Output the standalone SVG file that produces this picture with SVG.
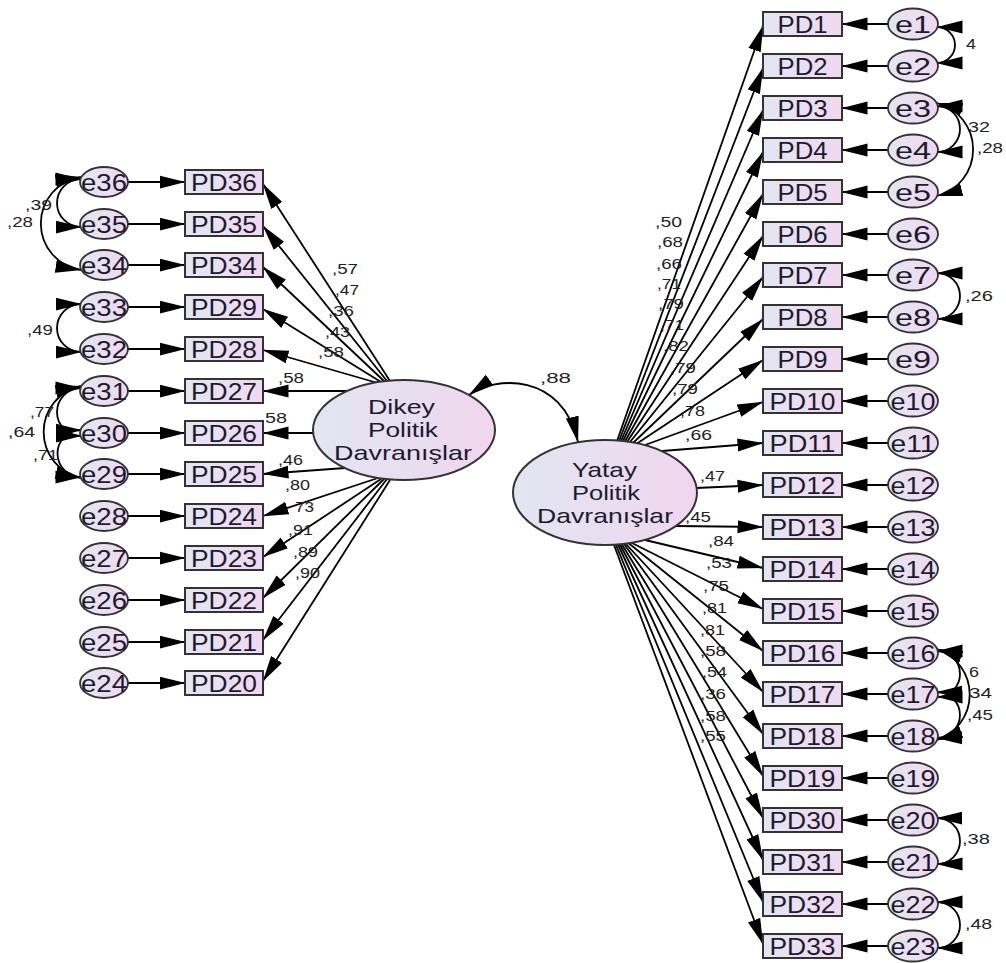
<svg xmlns="http://www.w3.org/2000/svg" width="1006" height="963" viewBox="0 0 1006 963">
<style>
.bg{fill:#fff}
.box{fill:url(#gf);stroke:#333;stroke-width:2}
.ell{fill:url(#gf);stroke:#333;stroke-width:1.8}
.lat{fill:url(#gl);stroke:#333;stroke-width:2}
.t{font-family:"Liberation Sans",Arial,sans-serif;font-size:24px;fill:#1c1c30}
.lt{font-family:"Liberation Sans",Arial,sans-serif;font-size:21px;fill:#1c1c30}
.n{font-family:"Liberation Sans",Arial,sans-serif;font-size:15px;fill:#222}
.c{fill:none;stroke:#000;stroke-width:1.8}
.ar{marker-end:url(#a)}
.cv{marker-start:url(#a);marker-end:url(#a)}
</style>
<defs>
<linearGradient id="gf" x1="0" y1="0" x2="1" y2="0">
<stop offset="0" stop-color="#e3e6f2"/><stop offset="1" stop-color="#f1d8ee"/>
</linearGradient>
<linearGradient id="gl" x1="0" y1="0" x2="1" y2="0">
<stop offset="0" stop-color="#e2e6f2"/><stop offset="1" stop-color="#f0d6ee"/>
</linearGradient>
<marker id="a" viewBox="0 0 26 14" refX="25.5" refY="7" markerWidth="26" markerHeight="14" markerUnits="userSpaceOnUse" orient="auto-start-reverse">
<path d="M0,0.5 L26,7 L0,13.5 Z" fill="#000"/>
</marker>
</defs>
<rect class="bg" x="0" y="0" width="1006" height="963"/>

<g id="connectors">
<path class="c ar" d="M128,182H185"/>
<path class="c ar" d="M128,224H185"/>
<path class="c ar" d="M128,265H185"/>
<path class="c ar" d="M128,307H185"/>
<path class="c ar" d="M128,349H185"/>
<path class="c ar" d="M128,391H185"/>
<path class="c ar" d="M128,433H185"/>
<path class="c ar" d="M128,474H185"/>
<path class="c ar" d="M128,516H185"/>
<path class="c ar" d="M128,558H185"/>
<path class="c ar" d="M128,600H185"/>
<path class="c ar" d="M128,642H185"/>
<path class="c ar" d="M128,683H185"/>
<path class="c ar" d="M390,381L263,184"/>
<path class="c ar" d="M387,381L263,226"/>
<path class="c ar" d="M384,381L263,267"/>
<path class="c ar" d="M381,382L263,309"/>
<path class="c ar" d="M376,382.5L263,350"/>
<path class="c ar" d="M347,391L263,391"/>
<path class="c ar" d="M313,433L263,433"/>
<path class="c ar" d="M345,468L263,474"/>
<path class="c ar" d="M378,478L263,516"/>
<path class="c ar" d="M381,479L263,557"/>
<path class="c ar" d="M384,479L263,598"/>
<path class="c ar" d="M387,479L263,640"/>
<path class="c ar" d="M390,480L263,681"/>
<path class="c cv" d="M81,179A24,24 0 0 0 81,227"/>
<path class="c cv" d="M81,177A47,47 0 0 0 81,270"/>
<path class="c cv" d="M81,304A24,24 0 0 0 81,352"/>
<path class="c cv" d="M81,388A24,24 0 0 0 81,436"/>
<path class="c cv" d="M81,430A23.5,23.5 0 0 0 81,477"/>
<path class="c cv" d="M81,386A47,47 0 0 0 81,478"/>
<path class="c cv" d="M469,395C495,376 562,372 578,442"/>
<path class="c ar" d="M617,441L763,26"/>
<path class="c ar" d="M619,441L763,68"/>
<path class="c ar" d="M621,441L763,110"/>
<path class="c ar" d="M623,441L763,152"/>
<path class="c ar" d="M625,441.5L763,194"/>
<path class="c ar" d="M627,442L763,236"/>
<path class="c ar" d="M630,442L763,277"/>
<path class="c ar" d="M633,443L763,319"/>
<path class="c ar" d="M637,443.5L763,360"/>
<path class="c ar" d="M645,445L763,402"/>
<path class="c ar" d="M662,451L763,443"/>
<path class="c ar" d="M696,488L763,485"/>
<path class="c ar" d="M675,526L763,527"/>
<path class="c ar" d="M645,540L763,568"/>
<path class="c ar" d="M632,543L763,609"/>
<path class="c ar" d="M629,543.5L763,651"/>
<path class="c ar" d="M626,544L763,692"/>
<path class="c ar" d="M624,544L763,734"/>
<path class="c ar" d="M622,544.5L763,776"/>
<path class="c ar" d="M620,544.5L763,818"/>
<path class="c ar" d="M618,544.5L763,860"/>
<path class="c ar" d="M616,545L763,902"/>
<path class="c ar" d="M614,545L763,944"/>
<path class="c ar" d="M888,24H842"/>
<path class="c ar" d="M888,66H842"/>
<path class="c ar" d="M888,108H842"/>
<path class="c ar" d="M888,150H842"/>
<path class="c ar" d="M888,192H842"/>
<path class="c ar" d="M888,234H842"/>
<path class="c ar" d="M888,275H842"/>
<path class="c ar" d="M888,317H842"/>
<path class="c ar" d="M888,359H842"/>
<path class="c ar" d="M888,401H842"/>
<path class="c ar" d="M888,443H842"/>
<path class="c ar" d="M888,485H842"/>
<path class="c ar" d="M888,527H842"/>
<path class="c ar" d="M888,569H842"/>
<path class="c ar" d="M888,611H842"/>
<path class="c ar" d="M888,653H842"/>
<path class="c ar" d="M888,694H842"/>
<path class="c ar" d="M888,736H842"/>
<path class="c ar" d="M888,778H842"/>
<path class="c ar" d="M888,820H842"/>
<path class="c ar" d="M888,862H842"/>
<path class="c ar" d="M888,904H842"/>
<path class="c ar" d="M888,946H842"/>
<path class="c cv" d="M937,27A18,18 0 0 1 937,63"/>
<path class="c cv" d="M937,106A23,23 0 0 1 937,152"/>
<path class="c cv" d="M937,103A48,48 0 0 1 937,196"/>
<path class="c cv" d="M937,273A23,23 0 0 1 937,319"/>
<path class="c cv" d="M937,651A23,23 0 0 1 937,697"/>
<path class="c cv" d="M937,692A23,23 0 0 1 937,738"/>
<path class="c cv" d="M937,649A48,48 0 0 1 937,740"/>
<path class="c cv" d="M937,818A23,23 0 0 1 937,864"/>
<path class="c cv" d="M937,902A23,23 0 0 1 937,948"/>
</g>

<g id="connector-labels" class="n">
<text x="332" y="274" textLength="26" lengthAdjust="spacingAndGlyphs">,57</text>
<text x="335" y="295" textLength="24" lengthAdjust="spacingAndGlyphs">,47</text>
<text x="328" y="316" textLength="26" lengthAdjust="spacingAndGlyphs">,36</text>
<text x="325" y="337" textLength="25" lengthAdjust="spacingAndGlyphs">,43</text>
<text x="318" y="357" textLength="26" lengthAdjust="spacingAndGlyphs">,58</text>
<text x="278" y="383" textLength="26" lengthAdjust="spacingAndGlyphs">,58</text>
<text x="265" y="423" textLength="22" lengthAdjust="spacingAndGlyphs">58</text>
<text x="278" y="465" textLength="25" lengthAdjust="spacingAndGlyphs">,46</text>
<text x="285" y="490" textLength="25" lengthAdjust="spacingAndGlyphs">,80</text>
<text x="295" y="512" textLength="19" lengthAdjust="spacingAndGlyphs">73</text>
<text x="288" y="535" textLength="25" lengthAdjust="spacingAndGlyphs">,91</text>
<text x="293" y="557" textLength="25" lengthAdjust="spacingAndGlyphs">,89</text>
<text x="295" y="578" textLength="25" lengthAdjust="spacingAndGlyphs">,90</text>
<text x="25" y="210" textLength="27" lengthAdjust="spacingAndGlyphs">,39</text>
<text x="7" y="227" textLength="26" lengthAdjust="spacingAndGlyphs">,28</text>
<text x="27" y="335" textLength="26" lengthAdjust="spacingAndGlyphs">,49</text>
<text x="30" y="417" textLength="24" lengthAdjust="spacingAndGlyphs">,77</text>
<text x="8" y="437" textLength="27" lengthAdjust="spacingAndGlyphs">,64</text>
<text x="33" y="460" textLength="25" lengthAdjust="spacingAndGlyphs">,71</text>
<text x="540" y="383" textLength="31" lengthAdjust="spacingAndGlyphs">,88</text>
<text x="655" y="227" textLength="27" lengthAdjust="spacingAndGlyphs">,50</text>
<text x="657" y="247" textLength="26" lengthAdjust="spacingAndGlyphs">,68</text>
<text x="656" y="269" textLength="26" lengthAdjust="spacingAndGlyphs">,66</text>
<text x="657" y="289" textLength="24" lengthAdjust="spacingAndGlyphs">,71</text>
<text x="658" y="309" textLength="26" lengthAdjust="spacingAndGlyphs">,79</text>
<text x="660" y="330" textLength="24" lengthAdjust="spacingAndGlyphs">,71</text>
<text x="663" y="351" textLength="26" lengthAdjust="spacingAndGlyphs">,82</text>
<text x="670" y="373" textLength="26" lengthAdjust="spacingAndGlyphs">,79</text>
<text x="672" y="394" textLength="26" lengthAdjust="spacingAndGlyphs">,79</text>
<text x="680" y="416" textLength="25" lengthAdjust="spacingAndGlyphs">,78</text>
<text x="685" y="440" textLength="27" lengthAdjust="spacingAndGlyphs">,66</text>
<text x="700" y="481" textLength="25" lengthAdjust="spacingAndGlyphs">,47</text>
<text x="685" y="522" textLength="26" lengthAdjust="spacingAndGlyphs">,45</text>
<text x="708" y="546" textLength="26" lengthAdjust="spacingAndGlyphs">,84</text>
<text x="706" y="568" textLength="26" lengthAdjust="spacingAndGlyphs">,53</text>
<text x="703" y="591" textLength="26" lengthAdjust="spacingAndGlyphs">,75</text>
<text x="702" y="613" textLength="25" lengthAdjust="spacingAndGlyphs">,81</text>
<text x="700" y="635" textLength="25" lengthAdjust="spacingAndGlyphs">,81</text>
<text x="700" y="656" textLength="26" lengthAdjust="spacingAndGlyphs">,58</text>
<text x="702" y="677" textLength="25" lengthAdjust="spacingAndGlyphs">,54</text>
<text x="700" y="699" textLength="26" lengthAdjust="spacingAndGlyphs">,36</text>
<text x="700" y="721" textLength="26" lengthAdjust="spacingAndGlyphs">,58</text>
<text x="700" y="741" textLength="26" lengthAdjust="spacingAndGlyphs">,55</text>
<text x="966" y="49" textLength="10" lengthAdjust="spacingAndGlyphs">4</text>
<text x="968" y="132" textLength="22" lengthAdjust="spacingAndGlyphs">32</text>
<text x="977" y="153" textLength="26" lengthAdjust="spacingAndGlyphs">,28</text>
<text x="965" y="301" textLength="28" lengthAdjust="spacingAndGlyphs">,26</text>
<text x="969" y="677" textLength="10" lengthAdjust="spacingAndGlyphs">6</text>
<text x="969" y="698" textLength="23" lengthAdjust="spacingAndGlyphs">34</text>
<text x="967" y="720" textLength="26" lengthAdjust="spacingAndGlyphs">,45</text>
<text x="962" y="844" textLength="28" lengthAdjust="spacingAndGlyphs">,38</text>
<text x="965" y="929" textLength="27" lengthAdjust="spacingAndGlyphs">,48</text>
</g>

<g id="latent-dikey">
<ellipse class="lat" cx="404" cy="430" rx="91" ry="50"/>
<text class="lt" x="368" y="414" textLength="67" lengthAdjust="spacingAndGlyphs">Dikey</text>
<text class="lt" x="368" y="437" textLength="70" lengthAdjust="spacingAndGlyphs">Politik</text>
<text class="lt" x="334" y="460" textLength="138" lengthAdjust="spacingAndGlyphs">Davranışlar</text>
</g>
<g id="latent-yatay">
<ellipse class="lat" cx="605" cy="492.5" rx="92" ry="52.5"/>
<text class="lt" x="572" y="477" textLength="65" lengthAdjust="spacingAndGlyphs">Yatay</text>
<text class="lt" x="572" y="500" textLength="68" lengthAdjust="spacingAndGlyphs">Politik</text>
<text class="lt" x="537" y="523" textLength="136" lengthAdjust="spacingAndGlyphs">Davranışlar</text>
</g>

<g id="PD36"><rect class="box" x="185" y="170" width="78" height="24"/><text class="t" x="191" y="190.5" textLength="66" lengthAdjust="spacingAndGlyphs">PD36</text></g>
<g id="PD35"><rect class="box" x="185" y="212" width="78" height="24"/><text class="t" x="191" y="232.5" textLength="66" lengthAdjust="spacingAndGlyphs">PD35</text></g>
<g id="PD34"><rect class="box" x="185" y="253" width="78" height="24"/><text class="t" x="191" y="273.5" textLength="66" lengthAdjust="spacingAndGlyphs">PD34</text></g>
<g id="PD29"><rect class="box" x="185" y="295" width="78" height="24"/><text class="t" x="191" y="315.5" textLength="66" lengthAdjust="spacingAndGlyphs">PD29</text></g>
<g id="PD28"><rect class="box" x="185" y="337" width="78" height="24"/><text class="t" x="191" y="357.5" textLength="66" lengthAdjust="spacingAndGlyphs">PD28</text></g>
<g id="PD27"><rect class="box" x="185" y="379" width="78" height="24"/><text class="t" x="191" y="399.5" textLength="66" lengthAdjust="spacingAndGlyphs">PD27</text></g>
<g id="PD26"><rect class="box" x="185" y="421" width="78" height="24"/><text class="t" x="191" y="441.5" textLength="66" lengthAdjust="spacingAndGlyphs">PD26</text></g>
<g id="PD25"><rect class="box" x="185" y="462" width="78" height="24"/><text class="t" x="191" y="482.5" textLength="66" lengthAdjust="spacingAndGlyphs">PD25</text></g>
<g id="PD24"><rect class="box" x="185" y="504" width="78" height="24"/><text class="t" x="191" y="524.5" textLength="66" lengthAdjust="spacingAndGlyphs">PD24</text></g>
<g id="PD23"><rect class="box" x="185" y="546" width="78" height="24"/><text class="t" x="191" y="566.5" textLength="66" lengthAdjust="spacingAndGlyphs">PD23</text></g>
<g id="PD22"><rect class="box" x="185" y="588" width="78" height="24"/><text class="t" x="191" y="608.5" textLength="66" lengthAdjust="spacingAndGlyphs">PD22</text></g>
<g id="PD21"><rect class="box" x="185" y="630" width="78" height="24"/><text class="t" x="191" y="650.5" textLength="66" lengthAdjust="spacingAndGlyphs">PD21</text></g>
<g id="PD20"><rect class="box" x="185" y="671" width="78" height="24"/><text class="t" x="191" y="691.5" textLength="66" lengthAdjust="spacingAndGlyphs">PD20</text></g>

<g id="e36"><ellipse class="ell" cx="104" cy="182" rx="24" ry="15"/><text class="t" x="81" y="190.5" textLength="46" lengthAdjust="spacingAndGlyphs">e36</text></g>
<g id="e35"><ellipse class="ell" cx="104" cy="224" rx="24" ry="15"/><text class="t" x="81" y="232.5" textLength="46" lengthAdjust="spacingAndGlyphs">e35</text></g>
<g id="e34"><ellipse class="ell" cx="104" cy="265" rx="24" ry="15"/><text class="t" x="81" y="273.5" textLength="46" lengthAdjust="spacingAndGlyphs">e34</text></g>
<g id="e33"><ellipse class="ell" cx="104" cy="307" rx="24" ry="15"/><text class="t" x="81" y="315.5" textLength="46" lengthAdjust="spacingAndGlyphs">e33</text></g>
<g id="e32"><ellipse class="ell" cx="104" cy="349" rx="24" ry="15"/><text class="t" x="81" y="357.5" textLength="46" lengthAdjust="spacingAndGlyphs">e32</text></g>
<g id="e31"><ellipse class="ell" cx="104" cy="391" rx="24" ry="15"/><text class="t" x="81" y="399.5" textLength="46" lengthAdjust="spacingAndGlyphs">e31</text></g>
<g id="e30"><ellipse class="ell" cx="104" cy="433" rx="24" ry="15"/><text class="t" x="81" y="441.5" textLength="46" lengthAdjust="spacingAndGlyphs">e30</text></g>
<g id="e29"><ellipse class="ell" cx="104" cy="474" rx="24" ry="15"/><text class="t" x="81" y="482.5" textLength="46" lengthAdjust="spacingAndGlyphs">e29</text></g>
<g id="e28"><ellipse class="ell" cx="104" cy="516" rx="24" ry="15"/><text class="t" x="81" y="524.5" textLength="46" lengthAdjust="spacingAndGlyphs">e28</text></g>
<g id="e27"><ellipse class="ell" cx="104" cy="558" rx="24" ry="15"/><text class="t" x="81" y="566.5" textLength="46" lengthAdjust="spacingAndGlyphs">e27</text></g>
<g id="e26"><ellipse class="ell" cx="104" cy="600" rx="24" ry="15"/><text class="t" x="81" y="608.5" textLength="46" lengthAdjust="spacingAndGlyphs">e26</text></g>
<g id="e25"><ellipse class="ell" cx="104" cy="642" rx="24" ry="15"/><text class="t" x="81" y="650.5" textLength="46" lengthAdjust="spacingAndGlyphs">e25</text></g>
<g id="e24"><ellipse class="ell" cx="104" cy="683" rx="24" ry="15"/><text class="t" x="81" y="691.5" textLength="46" lengthAdjust="spacingAndGlyphs">e24</text></g>

<g id="PD1"><rect class="box" x="763" y="12" width="79" height="24"/><text class="t" x="777.5" y="32.5" textLength="50" lengthAdjust="spacingAndGlyphs">PD1</text></g>
<g id="PD2"><rect class="box" x="763" y="54" width="79" height="24"/><text class="t" x="777.5" y="74.5" textLength="50" lengthAdjust="spacingAndGlyphs">PD2</text></g>
<g id="PD3"><rect class="box" x="763" y="96" width="79" height="24"/><text class="t" x="777.5" y="116.5" textLength="50" lengthAdjust="spacingAndGlyphs">PD3</text></g>
<g id="PD4"><rect class="box" x="763" y="138" width="79" height="24"/><text class="t" x="777.5" y="158.5" textLength="50" lengthAdjust="spacingAndGlyphs">PD4</text></g>
<g id="PD5"><rect class="box" x="763" y="180" width="79" height="24"/><text class="t" x="777.5" y="200.5" textLength="50" lengthAdjust="spacingAndGlyphs">PD5</text></g>
<g id="PD6"><rect class="box" x="763" y="222" width="79" height="24"/><text class="t" x="777.5" y="242.5" textLength="50" lengthAdjust="spacingAndGlyphs">PD6</text></g>
<g id="PD7"><rect class="box" x="763" y="263" width="79" height="24"/><text class="t" x="777.5" y="283.5" textLength="50" lengthAdjust="spacingAndGlyphs">PD7</text></g>
<g id="PD8"><rect class="box" x="763" y="305" width="79" height="24"/><text class="t" x="777.5" y="325.5" textLength="50" lengthAdjust="spacingAndGlyphs">PD8</text></g>
<g id="PD9"><rect class="box" x="763" y="347" width="79" height="24"/><text class="t" x="777.5" y="367.5" textLength="50" lengthAdjust="spacingAndGlyphs">PD9</text></g>
<g id="PD10"><rect class="box" x="763" y="389" width="79" height="24"/><text class="t" x="769.5" y="409.5" textLength="66" lengthAdjust="spacingAndGlyphs">PD10</text></g>
<g id="PD11"><rect class="box" x="763" y="431" width="79" height="24"/><text class="t" x="769.5" y="451.5" textLength="66" lengthAdjust="spacingAndGlyphs">PD11</text></g>
<g id="PD12"><rect class="box" x="763" y="473" width="79" height="24"/><text class="t" x="769.5" y="493.5" textLength="66" lengthAdjust="spacingAndGlyphs">PD12</text></g>
<g id="PD13"><rect class="box" x="763" y="515" width="79" height="24"/><text class="t" x="769.5" y="535.5" textLength="66" lengthAdjust="spacingAndGlyphs">PD13</text></g>
<g id="PD14"><rect class="box" x="763" y="557" width="79" height="24"/><text class="t" x="769.5" y="577.5" textLength="66" lengthAdjust="spacingAndGlyphs">PD14</text></g>
<g id="PD15"><rect class="box" x="763" y="599" width="79" height="24"/><text class="t" x="769.5" y="619.5" textLength="66" lengthAdjust="spacingAndGlyphs">PD15</text></g>
<g id="PD16"><rect class="box" x="763" y="641" width="79" height="24"/><text class="t" x="769.5" y="661.5" textLength="66" lengthAdjust="spacingAndGlyphs">PD16</text></g>
<g id="PD17"><rect class="box" x="763" y="682" width="79" height="24"/><text class="t" x="769.5" y="702.5" textLength="66" lengthAdjust="spacingAndGlyphs">PD17</text></g>
<g id="PD18"><rect class="box" x="763" y="724" width="79" height="24"/><text class="t" x="769.5" y="744.5" textLength="66" lengthAdjust="spacingAndGlyphs">PD18</text></g>
<g id="PD19"><rect class="box" x="763" y="766" width="79" height="24"/><text class="t" x="769.5" y="786.5" textLength="66" lengthAdjust="spacingAndGlyphs">PD19</text></g>
<g id="PD30"><rect class="box" x="763" y="808" width="79" height="24"/><text class="t" x="769.5" y="828.5" textLength="66" lengthAdjust="spacingAndGlyphs">PD30</text></g>
<g id="PD31"><rect class="box" x="763" y="850" width="79" height="24"/><text class="t" x="769.5" y="870.5" textLength="66" lengthAdjust="spacingAndGlyphs">PD31</text></g>
<g id="PD32"><rect class="box" x="763" y="892" width="79" height="24"/><text class="t" x="769.5" y="912.5" textLength="66" lengthAdjust="spacingAndGlyphs">PD32</text></g>
<g id="PD33"><rect class="box" x="763" y="934" width="79" height="24"/><text class="t" x="769.5" y="954.5" textLength="66" lengthAdjust="spacingAndGlyphs">PD33</text></g>

<g id="e1"><ellipse class="ell" cx="913" cy="24" rx="25" ry="15.5"/><text class="t" x="895" y="32.5" textLength="36" lengthAdjust="spacingAndGlyphs">e1</text></g>
<g id="e2"><ellipse class="ell" cx="913" cy="66" rx="25" ry="15.5"/><text class="t" x="895" y="74.5" textLength="36" lengthAdjust="spacingAndGlyphs">e2</text></g>
<g id="e3"><ellipse class="ell" cx="913" cy="108" rx="25" ry="15.5"/><text class="t" x="895" y="116.5" textLength="36" lengthAdjust="spacingAndGlyphs">e3</text></g>
<g id="e4"><ellipse class="ell" cx="913" cy="150" rx="25" ry="15.5"/><text class="t" x="895" y="158.5" textLength="36" lengthAdjust="spacingAndGlyphs">e4</text></g>
<g id="e5"><ellipse class="ell" cx="913" cy="192" rx="25" ry="15.5"/><text class="t" x="895" y="200.5" textLength="36" lengthAdjust="spacingAndGlyphs">e5</text></g>
<g id="e6"><ellipse class="ell" cx="913" cy="234" rx="25" ry="15.5"/><text class="t" x="895" y="242.5" textLength="36" lengthAdjust="spacingAndGlyphs">e6</text></g>
<g id="e7"><ellipse class="ell" cx="913" cy="275" rx="25" ry="15.5"/><text class="t" x="895" y="283.5" textLength="36" lengthAdjust="spacingAndGlyphs">e7</text></g>
<g id="e8"><ellipse class="ell" cx="913" cy="317" rx="25" ry="15.5"/><text class="t" x="895" y="325.5" textLength="36" lengthAdjust="spacingAndGlyphs">e8</text></g>
<g id="e9"><ellipse class="ell" cx="913" cy="359" rx="25" ry="15.5"/><text class="t" x="895" y="367.5" textLength="36" lengthAdjust="spacingAndGlyphs">e9</text></g>
<g id="e10"><ellipse class="ell" cx="913" cy="401" rx="25" ry="15.5"/><text class="t" x="890.5" y="409.5" textLength="45" lengthAdjust="spacingAndGlyphs">e10</text></g>
<g id="e11"><ellipse class="ell" cx="913" cy="443" rx="25" ry="15.5"/><text class="t" x="890.5" y="451.5" textLength="45" lengthAdjust="spacingAndGlyphs">e11</text></g>
<g id="e12"><ellipse class="ell" cx="913" cy="485" rx="25" ry="15.5"/><text class="t" x="890.5" y="493.5" textLength="45" lengthAdjust="spacingAndGlyphs">e12</text></g>
<g id="e13"><ellipse class="ell" cx="913" cy="527" rx="25" ry="15.5"/><text class="t" x="890.5" y="535.5" textLength="45" lengthAdjust="spacingAndGlyphs">e13</text></g>
<g id="e14"><ellipse class="ell" cx="913" cy="569" rx="25" ry="15.5"/><text class="t" x="890.5" y="577.5" textLength="45" lengthAdjust="spacingAndGlyphs">e14</text></g>
<g id="e15"><ellipse class="ell" cx="913" cy="611" rx="25" ry="15.5"/><text class="t" x="890.5" y="619.5" textLength="45" lengthAdjust="spacingAndGlyphs">e15</text></g>
<g id="e16"><ellipse class="ell" cx="913" cy="653" rx="25" ry="15.5"/><text class="t" x="890.5" y="661.5" textLength="45" lengthAdjust="spacingAndGlyphs">e16</text></g>
<g id="e17"><ellipse class="ell" cx="913" cy="694" rx="25" ry="15.5"/><text class="t" x="890.5" y="702.5" textLength="45" lengthAdjust="spacingAndGlyphs">e17</text></g>
<g id="e18"><ellipse class="ell" cx="913" cy="736" rx="25" ry="15.5"/><text class="t" x="890.5" y="744.5" textLength="45" lengthAdjust="spacingAndGlyphs">e18</text></g>
<g id="e19"><ellipse class="ell" cx="913" cy="778" rx="25" ry="15.5"/><text class="t" x="890.5" y="786.5" textLength="45" lengthAdjust="spacingAndGlyphs">e19</text></g>
<g id="e20"><ellipse class="ell" cx="913" cy="820" rx="25" ry="15.5"/><text class="t" x="890.5" y="828.5" textLength="45" lengthAdjust="spacingAndGlyphs">e20</text></g>
<g id="e21"><ellipse class="ell" cx="913" cy="862" rx="25" ry="15.5"/><text class="t" x="890.5" y="870.5" textLength="45" lengthAdjust="spacingAndGlyphs">e21</text></g>
<g id="e22"><ellipse class="ell" cx="913" cy="904" rx="25" ry="15.5"/><text class="t" x="890.5" y="912.5" textLength="45" lengthAdjust="spacingAndGlyphs">e22</text></g>
<g id="e23"><ellipse class="ell" cx="913" cy="946" rx="25" ry="15.5"/><text class="t" x="890.5" y="954.5" textLength="45" lengthAdjust="spacingAndGlyphs">e23</text></g>
</svg>
